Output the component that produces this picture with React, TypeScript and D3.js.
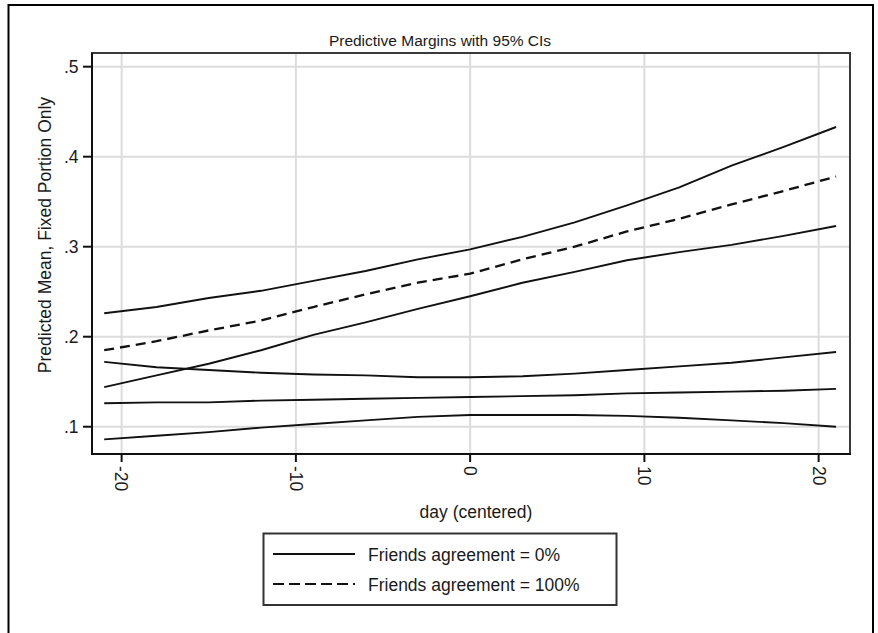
import React from "react";
import * as d3 from "d3";

const days = [-21, -18, -15, -12, -9, -6, -3, 0, 3, 6, 9, 12, 15, 18, 21];
// Friends agreement = 0%
const mean0 = [0.126, 0.127, 0.127, 0.129, 0.130, 0.131, 0.132, 0.133, 0.134, 0.135, 0.137, 0.138, 0.139, 0.140, 0.142];
const lo0 = [0.086, 0.090, 0.094, 0.099, 0.103, 0.107, 0.111, 0.113, 0.113, 0.113, 0.112, 0.110, 0.107, 0.104, 0.100];
const hi0 = [0.172, 0.166, 0.163, 0.160, 0.158, 0.157, 0.155, 0.155, 0.156, 0.159, 0.163, 0.167, 0.171, 0.177, 0.183];
// Friends agreement = 100%
const mean1 = [0.185, 0.195, 0.207, 0.218, 0.233, 0.247, 0.260, 0.270, 0.286, 0.300, 0.317, 0.331, 0.347, 0.362, 0.378];
const lo1 = [0.144, 0.157, 0.170, 0.185, 0.202, 0.216, 0.231, 0.245, 0.260, 0.272, 0.285, 0.294, 0.302, 0.312, 0.323];
const hi1 = [0.226, 0.233, 0.243, 0.251, 0.262, 0.273, 0.286, 0.297, 0.311, 0.327, 0.346, 0.366, 0.390, 0.411, 0.433];

const xTicks = [-20, -10, 0, 10, 20];
const yTicks = [0.1, 0.2, 0.3, 0.4, 0.5];
const yTickLabels = [".1", ".2", ".3", ".4", ".5"];
const legendLabels = ["Friends agreement = 0%", "Friends agreement = 100%"];
const title = "Predictive Margins with 95% CIs";
const xLabel = "day (centered)";
const yLabel = "Predicted Mean, Fixed Portion Only";

export default function App() {
  const W = 878, H = 633;
  const L = 92, R = 850, T = 53, B = 454;
  const x = d3.scaleLinear().domain([-21.7, 21.8]).range([L, R]);
  const y = d3.scaleLinear().domain([0.0697, 0.5152]).range([B, T]);
  const line = (vals: number[]) =>
    d3.line<number>().x((_, i) => x(days[i])).y((v) => y(v))(vals) || "";
  const font = "'Liberation Sans', Arial, Helvetica, sans-serif";
  const ink = "#111";

  const series = [
    { v: lo0, dash: undefined, w: 1.9 },
    { v: hi0, dash: undefined, w: 1.9 },
    { v: mean0, dash: undefined, w: 1.9 },
    { v: lo1, dash: undefined, w: 1.9 },
    { v: hi1, dash: undefined, w: 1.9 },
    { v: mean1, dash: "10 6", w: 2.3 },
  ];

  return (
    <svg
      width={W}
      height={H}
      style={{ position: "absolute", left: 0, top: 0, background: "#fff" }}
      fontFamily={font}
    >
      <rect x={0} y={0} width={W} height={H} fill="#fff" />
      <rect x={8.5} y={5} width={864.5} height={640} fill="none" stroke="#000" strokeWidth={2} />

      <text x={440} y={46} textAnchor="middle" fontSize={15.5} fill="#1a1a1a">
        {title}
      </text>

      {/* grid */}
      {yTicks.map((t) => (
        <line key={"gy" + t} x1={L} x2={R} y1={y(t)} y2={y(t)} stroke="#dcdcdc" strokeWidth={2} />
      ))}
      {xTicks.map((t) => (
        <line key={"gx" + t} x1={x(t)} x2={x(t)} y1={T} y2={B} stroke="#dcdcdc" strokeWidth={2} />
      ))}

      {/* plot frame */}
      <rect x={L} y={T} width={R - L} height={B - T} fill="none" stroke="#3a3a3a" strokeWidth={2} />
      <line x1={L} x2={L} y1={T} y2={B + 1} stroke="#111" strokeWidth={2} />
      <line x1={L - 1} x2={R + 1} y1={B} y2={B} stroke="#111" strokeWidth={2} />

      {/* series */}
      {series.map((s, i) => (
        <path
          key={i}
          d={line(s.v)}
          fill="none"
          stroke={ink}
          strokeWidth={s.w}
          strokeDasharray={s.dash}
        />
      ))}

      {/* y axis */}
      {yTicks.map((t, i) => (
        <g key={"yt" + t}>
          <line x1={L - 9} x2={L} y1={y(t)} y2={y(t)} stroke="#111" strokeWidth={2} />
          <text x={78.5} y={y(t)} dy="0.35em" textAnchor="end" fontSize={17.5} fill="#1a1a1a">
            {yTickLabels[i]}
          </text>
        </g>
      ))}

      {/* x axis */}
      {xTicks.map((t) => (
        <g key={"xt" + t}>
          <line x1={x(t)} x2={x(t)} y1={B} y2={B + 8} stroke="#111" strokeWidth={2} />
          <text
            transform={`translate(${x(t)},${B + 12}) rotate(90)`}
            dy="0.35em"
            textAnchor="start"
            fontSize={17.5}
            fill="#1a1a1a"
          >
            {String(t)}
          </text>
        </g>
      ))}

      <text x={476} y={518} textAnchor="middle" fontSize={17.5} fill="#1a1a1a">
        {xLabel}
      </text>
      <text
        transform={`translate(51,235) rotate(-90)`}
        textAnchor="middle"
        fontSize={17.5}
        fill="#1a1a1a"
      >
        {yLabel}
      </text>

      {/* legend */}
      <rect x={263.5} y={533.5} width={353} height={71.5} fill="#fff" stroke="#333" strokeWidth={2} />
      <line x1={273} x2={355} y1={554} y2={554} stroke={ink} strokeWidth={2.2} />
      <line x1={273} x2={355} y1={584} y2={584} stroke={ink} strokeWidth={2.2} strokeDasharray="11 5" />
      <text x={368} y={560.5} fontSize={17.5} fill="#1a1a1a">
        {legendLabels[0]}
      </text>
      <text x={368} y={590.5} fontSize={17.5} fill="#1a1a1a">
        {legendLabels[1]}
      </text>
    </svg>
  );
}
